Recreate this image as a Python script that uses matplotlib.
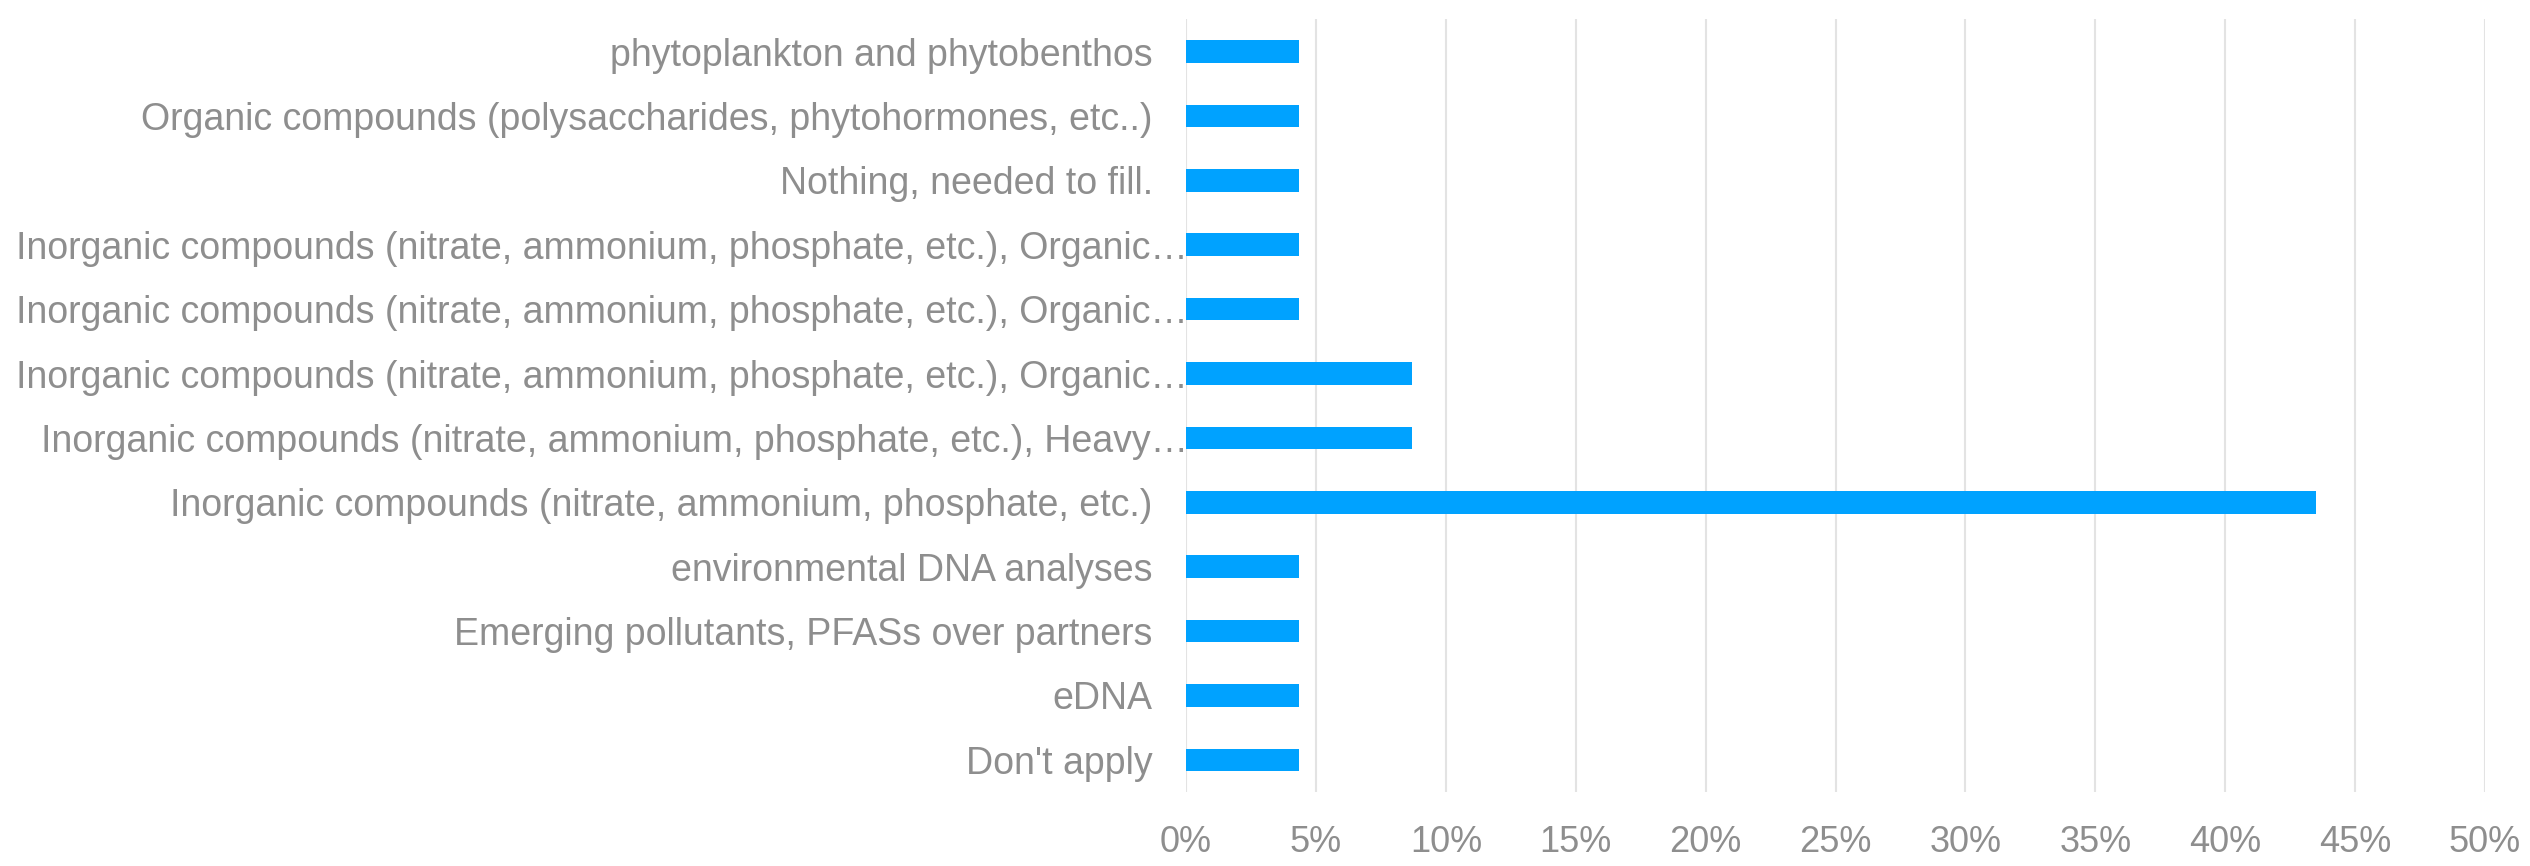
import matplotlib
matplotlib.use("Agg")
import matplotlib.pyplot as plt
import matplotlib.transforms as mtransforms
from matplotlib.ticker import MultipleLocator, PercentFormatter

# réponses (de haut en bas)
categories = [
    "phytoplankton and phytobenthos",
    "Organic compounds (polysaccharides, phytohormones, etc..)",
    "Nothing, needed to fill.",
    "Inorganic compounds (nitrate, ammonium, phosphate, etc.), Organic\u2026",
    "Inorganic compounds (nitrate, ammonium, phosphate, etc.), Organic\u2026",
    "Inorganic compounds (nitrate, ammonium, phosphate, etc.), Organic\u2026",
    "Inorganic compounds (nitrate, ammonium, phosphate, etc.), Heavy\u2026",
    "Inorganic compounds (nitrate, ammonium, phosphate, etc.)",
    "environmental DNA analyses",
    "Emerging pollutants, PFASs over partners",
    "eDNA",
    "Don't apply",
]
pourcentages = [4.35, 4.35, 4.35, 4.35, 4.35, 8.7, 8.7, 43.48, 4.35, 4.35, 4.35, 4.35]

COULEUR_BARRE = "#00A2FF"
COULEUR_TEXTE = "#8E8E8E"
COULEUR_GRILLE = "#E3E3E3"

plt.rcParams['font.family'] = ['Liberation Sans', 'DejaVu Sans']

fig = plt.figure(figsize=(25.3, 8.66), dpi=100)
ax = fig.add_axes([0.4688, 0.0854, 0.5134, 0.8922])

positions = list(range(len(categories)))
ax.barh(positions, pourcentages, height=0.35, color=COULEUR_BARRE, zorder=3)

ax.set_ylim(len(categories) - 0.5, -0.5)
ax.set_yticks(positions)
ax.set_yticklabels(categories)
ax.set_xlim(0, 50)
ax.xaxis.set_major_locator(MultipleLocator(5))
ax.xaxis.set_major_formatter(PercentFormatter(decimals=0))

ax.grid(axis='x', color=COULEUR_GRILLE, linewidth=1.5, zorder=0)
ax.tick_params(axis='y', length=0, pad=24, labelsize=27, labelcolor=COULEUR_TEXTE)
ax.tick_params(axis='x', length=0, pad=24, labelsize=26, labelcolor=COULEUR_TEXTE)
for spine in ax.spines.values():
    spine.set_visible(False)

# les libellés tronqués débordent jusqu'à l'axe
decalage = mtransforms.ScaledTranslation(0.35, 0, fig.dpi_scale_trans)
for label in ax.get_yticklabels():
    if label.get_text().endswith("\u2026"):
        label.set_transform(label.get_transform() + decalage)

fig.savefig("out.png", dpi=100, facecolor="white")
